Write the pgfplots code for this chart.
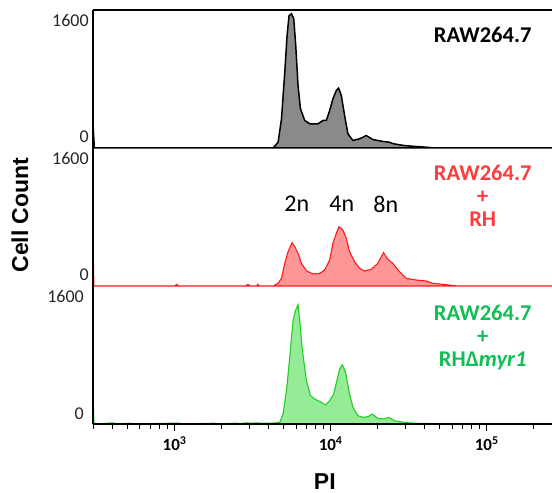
\documentclass[border=0pt]{standalone}
\usepackage{pgfplots}
\pgfplotsset{compat=1.18}
\usepackage{fontspec}
\setmainfont{Carlito}
\newfontfamily\arialb{Liberation Sans}

\definecolor{histgray}{RGB}{138,138,138}
\definecolor{rhline}{RGB}{255,25,25}
\definecolor{rhfill}{RGB}{255,150,150}
\definecolor{rhtext}{RGB}{255,60,60}
\definecolor{myrline}{RGB}{35,205,35}
\definecolor{myrfill}{RGB}{150,235,150}
\definecolor{myrtext}{RGB}{15,190,85}

\pgfplotsset{
  every tick label/.append style={font=\fontsize{17}{17}\selectfont},
  every y tick label/.append style={font=\fontsize{18}{18}\selectfont},
  /pgf/number format/assume math mode=true,
}
\newcommand{\zerolab}{\raisebox{0pt}[0pt][0pt]{\raisebox{5pt}{0}}}
\newcommand{\dec}[1]{\textbf{10\textsuperscript{#1}}}

\begin{document}
\begin{tikzpicture}
\path[use as bounding box] (-93pt,-69pt) rectangle (459pt,424pt);

% top panel: RAW264.7
\begin{axis}[
  scale only axis, width=459pt, height=138pt,
  at={(0pt,276pt)}, anchor=south west,
  xmode=log, xmin=300, xmax=262144, ymin=0, ymax=1725,
  axis on top, axis x line=none, axis y line=left,
  axis line style={-, line width=1.6pt, black},
  xtick=\empty, ytick={0,1600}, yticklabels={\zerolab,1600},
  ytick style={draw=none},
  yticklabel style={text=black!85, inner xsep=2pt},
  clip=false]
\addplot[draw=black, line width=1.5pt, fill=histgray] coordinates {
(300,300) (306,0) (4279,0) (4606,72) (4842,365) (5083,948) (5258,1407)
(5414,1656) (5609,1678) (5802,1616) (5975,1282) (6182,781) (6404,491)
(6823,344) (7343,303) (8295,303) (8929,344) (9386,344) (9854,469)
(10344,615) (10875,719) (11249,748) (11706,657) (12288,406) (12899,178)
(13884,94) (15320,115) (16909,156) (18636,106) (21591,82) (23823,72)
(25000,55) (27606,40) (30000,30) (33574,22) (40889,10) (47350,0) (262144,0)
} \closedcycle;
\draw[line width=1.2pt] (rel axis cs:0,1) -- (rel axis cs:1,1);
\node[font=\fontsize{22.5}{24}\selectfont\bfseries] at (rel axis cs:0.849,0.82) {RAW264.7};
\end{axis}

% middle panel: RAW264.7 + RH
\begin{axis}[
  scale only axis, width=459pt, height=138pt,
  at={(0pt,138pt)}, anchor=south west,
  xmode=log, xmin=300, xmax=262144, ymin=0, ymax=1725,
  axis on top, axis x line=none, axis y line=left,
  axis line style={-, line width=1.6pt, black},
  xtick=\empty, ytick={0,1600}, yticklabels={\zerolab,1600},
  ytick style={draw=none},
  yticklabel style={text=black!85, inner xsep=2pt},
  clip=false,
  ylabel={\arialb\bfseries Cell Count},
  ylabel style={at={(rel axis cs:-0.159,0.514)}, anchor=center,
    font=\fontsize{23}{23}\selectfont}]
\addplot[draw=rhline, line width=1.1pt, fill=rhfill] coordinates {
(300,530) (304,0) (1000,0) (1030,20) (1060,0) (2850,0) (2951,20) (3050,0)
(3350,0) (3415,20) (3500,0) (4279,0) (4606,34) (4842,97) (5083,283)
(5336,429) (5658,542) (5888,491) (6182,408) (6498,283) (6995,191)
(7706,150) (8505,158) (9155,200) (9854,325) (10344,533) (10875,658)
(11298,741) (11985,700) (12597,596) (13224,429) (14233,304) (15320,221)
(16494,188) (18203,208) (20061,283) (21815,417) (23234,333) (25007,283)
(27606,179) (30457,97) (35278,75) (40889,63) (45045,34) (54855,16)
(65083,0) (262144,0)
} \closedcycle;
\node[font=\fontsize{24}{24}\selectfont] at (rel axis cs:0.444,0.594) {2n};
\node[font=\fontsize{24}{24}\selectfont] at (rel axis cs:0.542,0.594) {4n};
\node[font=\fontsize{24}{24}\selectfont] at (rel axis cs:0.638,0.594) {8n};
\node[font=\fontsize{22.5}{23}\selectfont\bfseries, text=rhtext, align=center]
  at (rel axis cs:0.849,0.652) {RAW264.7\\+\\RH};
\end{axis}

% bottom panel: RAW264.7 + RH delta myr1
\begin{axis}[
  scale only axis, width=459pt, height=138pt,
  at={(0pt,0pt)}, anchor=south west,
  xmode=log, xmin=300, xmax=262144, ymin=0, ymax=1725,
  axis on top, axis x line=bottom, axis y line=left,
  axis line style={-, line width=1.6pt, black},
  ytick={0,1600}, yticklabels={\zerolab,1600},
  ytick style={draw=none},
  yticklabel style={text=black!85, inner xsep=2pt},
  clip=false,
  xtick={1000,10000,100000},
  xticklabels={\dec{3},\dec{4},\dec{5}},
  minor xtick={300,400,500,600,700,800,900,2000,3000,4000,5000,6000,7000,8000,9000,
    20000,30000,40000,50000,60000,70000,80000,90000,200000},
  xtick style={black, line width=1pt},
  tick align=outside,
  major tick length=7pt, minor tick length=4.5pt,
  xticklabel style={yshift=-2pt},
  xlabel={\arialb\bfseries PI},
  xlabel style={at={(rel axis cs:0.505,-0.418)}, anchor=center,
    font=\fontsize{23}{23}\selectfont}]
\addplot[draw=myrline, line width=1.1pt, fill=myrfill] coordinates {
(300,370) (304,10) (330,0) (400,15) (430,0) (520,10) (560,0) (1050,12)
(1100,5) (1200,0) (1800,10) (1900,0) (2500,12) (2600,5) (2900,15) (3100,8)
(3300,15) (3600,10) (4200,10) (4721,20) (4955,125) (5209,416) (5470,833)
(5742,1291) (5948,1416) (6182,1491) (6337,1291) (6596,916) (6995,541)
(7420,354) (7904,313) (8723,270) (9250,238) (9854,291) (10452,375)
(10970,541) (11415,688) (11879,741) (12469,645) (13088,416) (13884,208)
(14944,104) (16087,83) (17313,91) (18475,125) (20061,70) (22136,63)
(23580,83) (25645,41) (30457,16) (37049,8) (49716,3) (71810,0) (262144,0)
} \closedcycle;
\node[font=\fontsize{22.5}{23}\selectfont\bfseries, text=myrtext, align=center]
  at (rel axis cs:0.849,0.625) {RAW264.7\\+\\RHΔ\textit{myr1}};
\end{axis}
\end{tikzpicture}
\end{document}
